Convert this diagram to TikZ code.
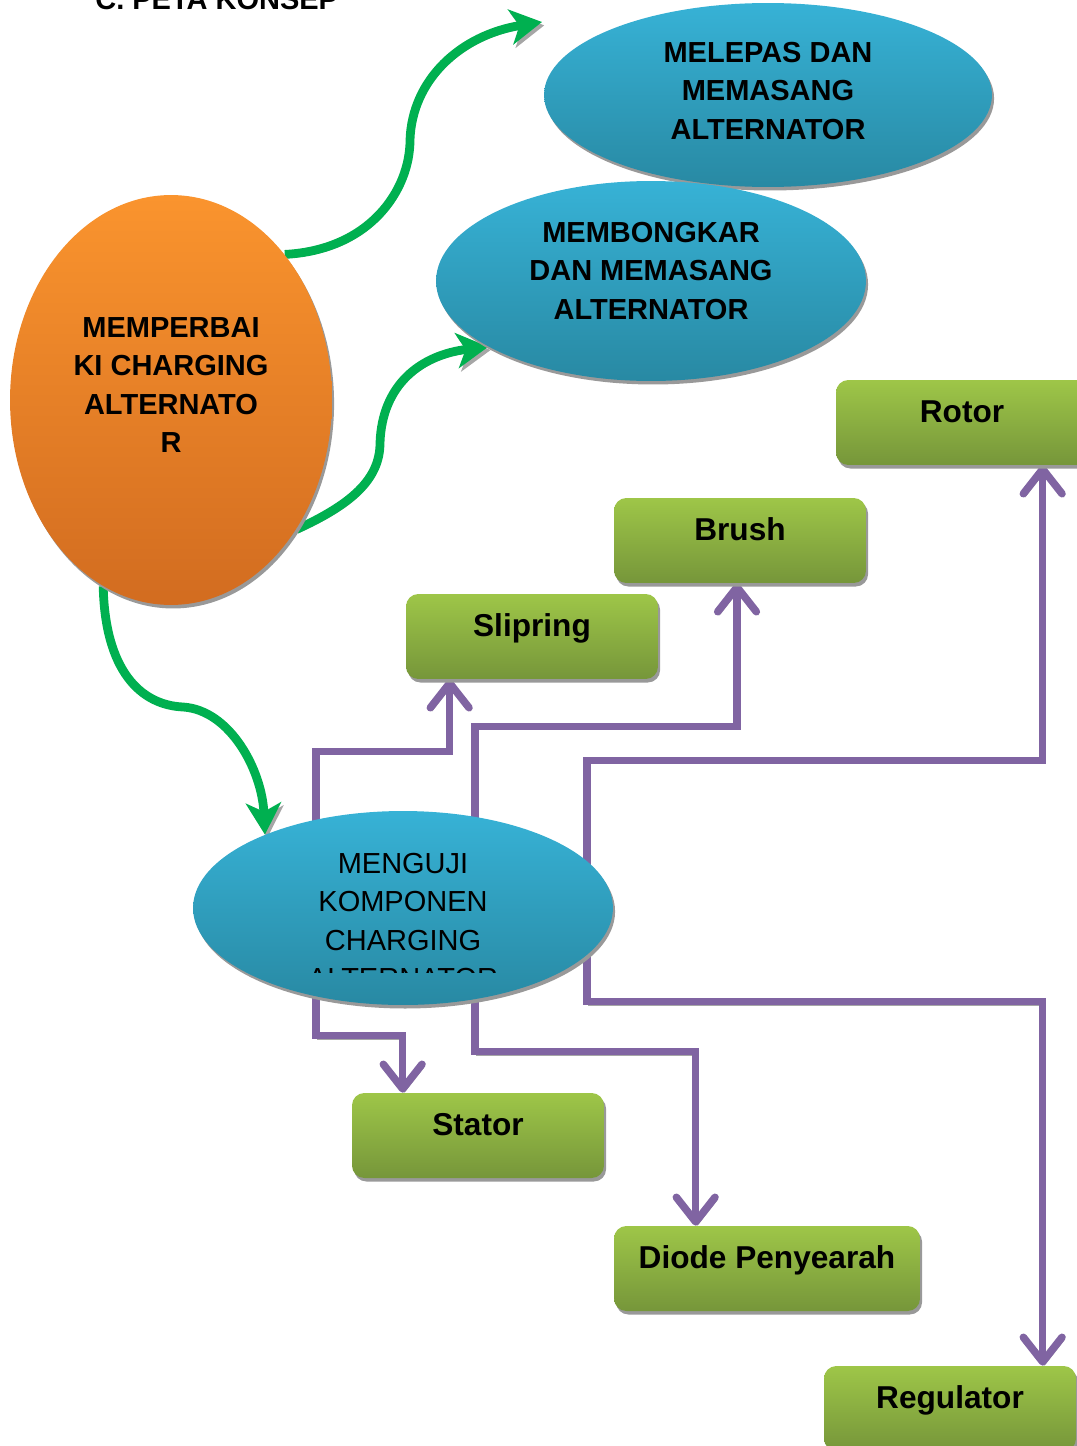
\documentclass[tikz,border=0pt]{standalone}
\usepackage{fontspec}
\setmainfont{Liberation Sans}
\usetikzlibrary{positioning,calc,shapes.geometric,shadows,arrows.meta}
\definecolor{orTop}{RGB}{250,148,46}
\definecolor{orBot}{RGB}{210,108,32}
\definecolor{blTop}{RGB}{55,178,214}
\definecolor{blBot}{RGB}{40,137,163}
\definecolor{grTop}{RGB}{158,198,72}
\definecolor{grBot}{RGB}{118,150,58}
\definecolor{ungu}{RGB}{128,100,162}
\definecolor{hijau}{RGB}{0,176,80}
\pgfdeclarelayer{back}
\pgfsetlayers{back,main}
\tikzset{
sh/.style={drop shadow={shadow xshift=1.2pt,shadow yshift=-2pt,fill=black!40,opacity=1}},
ov/.style={ellipse,sh,inner sep=0pt,top color=blTop,bottom color=blBot},
oo/.style={ellipse,sh,inner sep=0pt,top color=orTop,bottom color=orBot},
tb/.style={font=\fontsize{16.5}{21.9}\selectfont\bfseries,align=center,inner sep=0pt},
tn/.style={font=\fontsize{16.5}{21.9}\selectfont,align=center,inner sep=0pt},
kotak/.style={rectangle,rounded corners=7pt,sh,top color=grTop,bottom color=grBot,
  minimum width=5.04cm,minimum height=1.7cm,inner sep=0pt,
  font=\fontsize{18}{22}\selectfont\bfseries,text height=12pt,text depth=12pt},
panah/.style={line width=5pt,draw=hijau,-{Stealth[length=18pt,width=20pt,inset=5pt]},
  preaction={draw=black!35,transform canvas={xshift=1.3pt,yshift=-1.9pt}}},
garis/.style={line width=4.3pt,draw=ungu,-{Straight Barb[length=14pt,width=22pt,round]},
  preaction={draw=black!35,transform canvas={xshift=1pt,yshift=-1.9pt}}},
}
\begin{document}
\begin{tikzpicture}[x=0.02cm,y=-0.02cm]
	\useasboundingbox (0,0) rectangle (1077,1446);

	\node[tb,anchor=base west] (judul) at (95,10) {C. PETA KONSEP};

	\node[oo,minimum width=6.44cm,minimum height=8.2cm] (perbaiki) at (171,400) {};
	\node[tb] (perbaikiT) at ($(perbaiki)+(0,-15)$) {MEMPERBAI\\KI CHARGING\\ALTERNATO\\R};

	\node[ov,minimum width=8.96cm,minimum height=3.68cm] (lepas) at (768,95) {};
	\node[tb] (lepasT) at ($(lepas)+(0,-4)$) {MELEPAS DAN\\MEMASANG\\ALTERNATOR};

	\node[ov,minimum width=8.6cm,minimum height=4cm] (bongkar) at (651,281) {};
	\node[tb] (bongkarT) at ($(bongkar)+(0,-10)$) {MEMBONGKAR\\DAN MEMASANG\\ALTERNATOR};

	\node[ov,minimum width=8.4cm,minimum height=3.88cm] (uji) at (403,908) {};
	\node[tn] (ujiT) at ($(uji)+(0,-6)$) {MENGUJI\\KOMPONEN\\CHARGING};
	\begin{scope}
		\clip (290,955) rectangle (520,972);
		\node[tn] (ujiX) at ($(uji)+(0,70.5)$) {ALTERNATOR};
	\end{scope}

	\node[kotak] (rotor) at (962,422.5) {Rotor};
	\node[kotak] (brush) at (740,540.5) {Brush};
	\node[kotak] (slip) at (532,636.5) {Slipring};
	\node[kotak] (stator) at (478,1135.5) {Stator};
	\node[kotak,minimum width=6.12cm] (diode) at (767,1268.5) {Diode Penyearah};
	\node[kotak] (reg) at (950,1408.5) {Regulator};

	\coordinate (ujiL) at ($(uji)+(-87,0)$);
	\coordinate (ujiM) at ($(uji)+(72,0)$);
	\coordinate (ujiR) at ($(uji)+(184,0)$);
	\coordinate (tipA) at (542,22);

	\begin{pgfonlayer}{back}
	\draw[panah] (perbaiki.52) .. controls (370,250) and (410,190) .. (410,140)
		.. controls (412,80) and (460,35) .. (tipA);
	\draw[panah] (perbaiki.-46) .. controls (350,505) and (380,480) .. (380,443)
		.. controls (382,385) and (420,355) .. (bongkar.202);
	\draw[panah] (perbaiki.-110) .. controls (105,670) and (140,705) .. (183,707)
		.. controls (230,710) and (262,770) .. (uji.152);

	\draw[garis] (ujiL) |- ($(slip.south west)+(44,72)$) -- ($(slip.south west)+(44,0)$);
	\draw[garis] (ujiL) |- ($(stator.north west)+(51,-57)$) -- ($(stator.north west)+(51,0)$);
	\draw[garis] (ujiM) |- ($(brush.south)+(-3,143)$) -- ($(brush.south)+(-3,0)$);
	\draw[garis] (ujiM) |- ($(diode.north west)+(82,-174)$) -- ($(diode.north west)+(82,0)$);
	\draw[garis] (ujiR) |- ($(rotor.south west)+(207,295)$) -- ($(rotor.south west)+(207,0)$);
	\draw[garis] (ujiR) |- ($(reg.north west)+(219,-364)$) -- ($(reg.north west)+(219,0)$);
	\end{pgfonlayer}
\end{tikzpicture}
\end{document}
